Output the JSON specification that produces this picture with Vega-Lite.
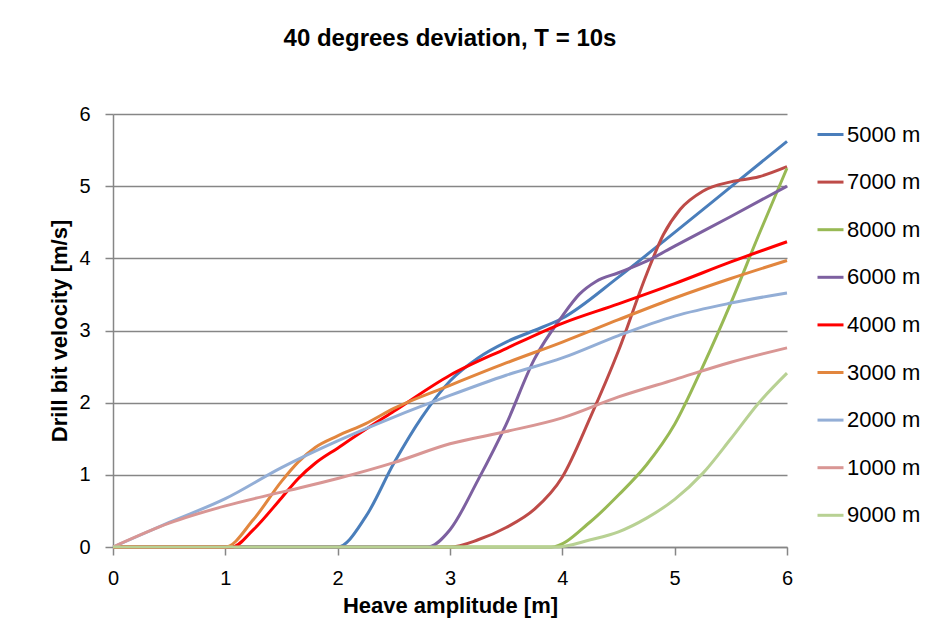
{
  "$schema": "https://vega.github.io/schema/vega-lite/v6.json",
  "width": 674,
  "height": 433,
  "autosize": {"type": "none"},
  "padding": {"left": 113, "top": 114, "right": 154, "bottom": 79},
  "background": "white",
  "title": {
    "text": "40 degrees deviation, T = 10s",
    "fontSize": 24,
    "fontWeight": "bold",
    "font": "Liberation Sans",
    "color": "#000000",
    "anchor": "middle",
    "offset": 53
  },
  "datasets": {
    "curves": [
      {"d": "5000 m", "x": 0, "v": 0}, {"d": "5000 m", "x": 2, "v": 0}, {"d": "5000 m", "x": 2.25, "v": 0.42}, {"d": "5000 m", "x": 2.5, "v": 1.16}, {"d": "5000 m", "x": 2.75, "v": 1.8}, {"d": "5000 m", "x": 3, "v": 2.3}, {"d": "5000 m", "x": 3.25, "v": 2.62}, {"d": "5000 m", "x": 3.5, "v": 2.84}, {"d": "5000 m", "x": 3.75, "v": 3.0}, {"d": "5000 m", "x": 4, "v": 3.17}, {"d": "5000 m", "x": 4.5, "v": 3.74}, {"d": "5000 m", "x": 5, "v": 4.36}, {"d": "5000 m", "x": 5.5, "v": 4.99}, {"d": "5000 m", "x": 6, "v": 5.62},
      {"d": "7000 m", "x": 0, "v": 0}, {"d": "7000 m", "x": 3, "v": 0}, {"d": "7000 m", "x": 3.25, "v": 0.1}, {"d": "7000 m", "x": 3.5, "v": 0.27}, {"d": "7000 m", "x": 3.75, "v": 0.52}, {"d": "7000 m", "x": 4, "v": 0.97}, {"d": "7000 m", "x": 4.25, "v": 1.8}, {"d": "7000 m", "x": 4.5, "v": 2.72}, {"d": "7000 m", "x": 4.75, "v": 3.78}, {"d": "7000 m", "x": 4.9, "v": 4.33}, {"d": "7000 m", "x": 5.05, "v": 4.68}, {"d": "7000 m", "x": 5.25, "v": 4.93}, {"d": "7000 m", "x": 5.5, "v": 5.06}, {"d": "7000 m", "x": 5.75, "v": 5.13}, {"d": "7000 m", "x": 6, "v": 5.27},
      {"d": "8000 m", "x": 0, "v": 0}, {"d": "8000 m", "x": 3.9, "v": 0}, {"d": "8000 m", "x": 4.25, "v": 0.35}, {"d": "8000 m", "x": 4.5, "v": 0.72}, {"d": "8000 m", "x": 4.75, "v": 1.14}, {"d": "8000 m", "x": 5, "v": 1.7}, {"d": "8000 m", "x": 5.25, "v": 2.5}, {"d": "8000 m", "x": 5.5, "v": 3.38}, {"d": "8000 m", "x": 5.75, "v": 4.33}, {"d": "8000 m", "x": 6, "v": 5.25},
      {"d": "6000 m", "x": 0, "v": 0}, {"d": "6000 m", "x": 2.8, "v": 0}, {"d": "6000 m", "x": 3, "v": 0.24}, {"d": "6000 m", "x": 3.25, "v": 0.93}, {"d": "6000 m", "x": 3.5, "v": 1.7}, {"d": "6000 m", "x": 3.75, "v": 2.6}, {"d": "6000 m", "x": 4, "v": 3.2}, {"d": "6000 m", "x": 4.15, "v": 3.5}, {"d": "6000 m", "x": 4.3, "v": 3.68}, {"d": "6000 m", "x": 4.5, "v": 3.8}, {"d": "6000 m", "x": 4.75, "v": 3.96}, {"d": "6000 m", "x": 5, "v": 4.17}, {"d": "6000 m", "x": 5.5, "v": 4.58}, {"d": "6000 m", "x": 6, "v": 5.0},
      {"d": "4000 m", "x": 0, "v": 0}, {"d": "4000 m", "x": 1.06, "v": 0}, {"d": "4000 m", "x": 1.25, "v": 0.24}, {"d": "4000 m", "x": 1.5, "v": 0.68}, {"d": "4000 m", "x": 1.65, "v": 0.95}, {"d": "4000 m", "x": 1.8, "v": 1.16}, {"d": "4000 m", "x": 2, "v": 1.37}, {"d": "4000 m", "x": 2.25, "v": 1.63}, {"d": "4000 m", "x": 2.5, "v": 1.88}, {"d": "4000 m", "x": 3, "v": 2.38}, {"d": "4000 m", "x": 3.5, "v": 2.75}, {"d": "4000 m", "x": 4, "v": 3.1}, {"d": "4000 m", "x": 4.5, "v": 3.37}, {"d": "4000 m", "x": 5, "v": 3.65}, {"d": "4000 m", "x": 5.5, "v": 3.95}, {"d": "4000 m", "x": 6, "v": 4.23},
      {"d": "3000 m", "x": 0, "v": 0}, {"d": "3000 m", "x": 1, "v": 0}, {"d": "3000 m", "x": 1.25, "v": 0.38}, {"d": "3000 m", "x": 1.5, "v": 0.91}, {"d": "3000 m", "x": 1.65, "v": 1.18}, {"d": "3000 m", "x": 1.8, "v": 1.38}, {"d": "3000 m", "x": 2, "v": 1.54}, {"d": "3000 m", "x": 2.25, "v": 1.71}, {"d": "3000 m", "x": 2.5, "v": 1.92}, {"d": "3000 m", "x": 3, "v": 2.24}, {"d": "3000 m", "x": 3.5, "v": 2.55}, {"d": "3000 m", "x": 4, "v": 2.84}, {"d": "3000 m", "x": 4.5, "v": 3.15}, {"d": "3000 m", "x": 5, "v": 3.45}, {"d": "3000 m", "x": 5.5, "v": 3.72}, {"d": "3000 m", "x": 6, "v": 3.97},
      {"d": "2000 m", "x": 0, "v": 0}, {"d": "2000 m", "x": 0.5, "v": 0.34}, {"d": "2000 m", "x": 1, "v": 0.67}, {"d": "2000 m", "x": 1.5, "v": 1.1}, {"d": "2000 m", "x": 2, "v": 1.47}, {"d": "2000 m", "x": 2.5, "v": 1.8}, {"d": "2000 m", "x": 3, "v": 2.1}, {"d": "2000 m", "x": 3.5, "v": 2.38}, {"d": "2000 m", "x": 4, "v": 2.62}, {"d": "2000 m", "x": 4.5, "v": 2.93}, {"d": "2000 m", "x": 5, "v": 3.2}, {"d": "2000 m", "x": 5.5, "v": 3.38}, {"d": "2000 m", "x": 6, "v": 3.52},
      {"d": "1000 m", "x": 0, "v": 0}, {"d": "1000 m", "x": 0.5, "v": 0.33}, {"d": "1000 m", "x": 1, "v": 0.57}, {"d": "1000 m", "x": 1.5, "v": 0.76}, {"d": "1000 m", "x": 2, "v": 0.95}, {"d": "1000 m", "x": 2.5, "v": 1.17}, {"d": "1000 m", "x": 3, "v": 1.43}, {"d": "1000 m", "x": 3.5, "v": 1.6}, {"d": "1000 m", "x": 4, "v": 1.79}, {"d": "1000 m", "x": 4.5, "v": 2.08}, {"d": "1000 m", "x": 5, "v": 2.32}, {"d": "1000 m", "x": 5.5, "v": 2.56}, {"d": "1000 m", "x": 6, "v": 2.76},
      {"d": "9000 m", "x": 0, "v": 0}, {"d": "9000 m", "x": 3.95, "v": 0}, {"d": "9000 m", "x": 4.25, "v": 0.1}, {"d": "9000 m", "x": 4.5, "v": 0.21}, {"d": "9000 m", "x": 4.75, "v": 0.4}, {"d": "9000 m", "x": 5, "v": 0.66}, {"d": "9000 m", "x": 5.25, "v": 1.02}, {"d": "9000 m", "x": 5.5, "v": 1.5}, {"d": "9000 m", "x": 5.75, "v": 2.0}, {"d": "9000 m", "x": 6, "v": 2.41}
    ]
  },
  "data": {"name": "curves"},
  "mark": {"type": "line", "interpolate": "monotone", "strokeWidth": 3},
  "encoding": {
    "x": {
      "field": "x", "type": "quantitative",
      "scale": {"domain": [0, 6], "nice": false},
      "axis": {
        "title": "Heave amplitude [m]",
        "values": [0, 1, 2, 3, 4, 5, 6],
        "grid": false,
        "labelFlush": false,
        "labelPadding": 13,
        "titlePadding": 7
      }
    },
    "y": {
      "field": "v", "type": "quantitative",
      "scale": {"domain": [0, 6], "nice": false},
      "axis": {
        "title": "Drill bit velocity [m/s]",
        "values": [0, 1, 2, 3, 4, 5, 6],
        "grid": true,
        "labelFlush": false,
        "labelPadding": 15,
        "titlePadding": 7
      }
    },
    "color": {
      "field": "d", "type": "nominal",
      "scale": {
        "domain": ["5000 m", "7000 m", "8000 m", "6000 m", "4000 m", "3000 m", "2000 m", "1000 m", "9000 m"],
        "range": ["#4A7EBB", "#BE4B48", "#98B954", "#7D60A0", "#FF0000", "#E2863E", "#93AED6", "#D99694", "#B8D193"]
      },
      "legend": {
        "title": null,
        "orient": "none",
        "legendX": 703,
        "legendY": 6,
        "symbolType": "stroke",
        "symbolSize": 676,
        "symbolStrokeWidth": 3,
        "labelFontSize": 22,
        "labelFont": "Liberation Sans",
        "labelColor": "#000000",
        "rowPadding": 21.6,
        "labelOffset": 2
      }
    }
  },
  "config": {
    "view": {"stroke": null},
    "axis": {
      "labelFont": "Liberation Sans",
      "titleFont": "Liberation Sans",
      "labelFontSize": 20,
      "titleFontSize": 22,
      "titleFontWeight": "bold",
      "labelColor": "#000000",
      "titleColor": "#000000",
      "domainColor": "#868686",
      "domainWidth": 1.5,
      "tickColor": "#868686",
      "tickWidth": 1.5,
      "tickSize": 8,
      "gridColor": "#868686",
      "gridWidth": 1.5
    }
  }
}
